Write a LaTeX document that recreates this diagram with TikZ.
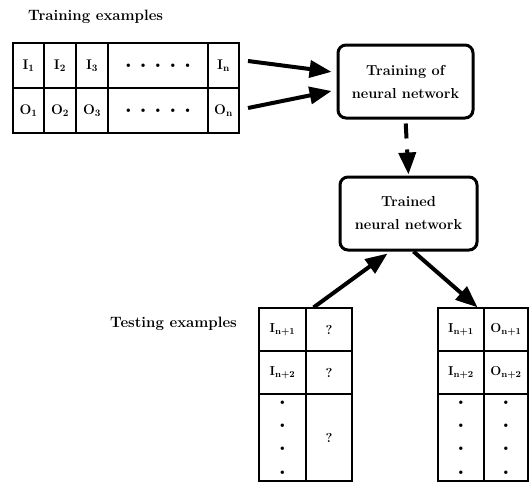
\documentclass[tikz,border=0pt]{standalone}
\usepackage{fontspec}
\usetikzlibrary{arrows.meta}

\newcommand{\lab}[2]{#1\textsubscript{#2}}
\newcommand{\dotmark}{{\fontsize{7}{8}\selectfont$\bullet$}}
\newcommand{\rowdots}{\makebox[64pt]{\dotmark\hfill\dotmark\hfill\dotmark\hfill\dotmark\hfill\dotmark}}
\newcommand{\coldots}{\dotmark\\\dotmark\\\dotmark\\\dotmark}

\tikzset{
  cell/.style={draw, line width=1.2pt, inner sep=0pt, font=\fontsize{14}{16}\selectfont\bfseries\boldmath},
  tcell/.style={cell, font=\fontsize{13}{23.3}\selectfont\bfseries\boldmath, align=center},
  netbox/.style={draw, line width=3pt, rounded corners=8pt, minimum height=73pt, align=center, font=\fontsize{14.5}{23}\selectfont\bfseries},
  flow/.style={-{Triangle[length=22pt,width=17pt]}, line width=4pt},
  heading/.style={anchor=base west, inner sep=0pt, font=\fontsize{15}{18}\selectfont\bfseries}
}

\begin{document}
\begin{tikzpicture}[x=1pt,y=-1pt]
\pgfmathsetmacro{\rowI}{65.5}
\pgfmathsetmacro{\rowO}{110.5}
\pgfmathsetmacro{\ra}{329.5}
\pgfmathsetmacro{\rb}{372.5}
\pgfmathsetmacro{\rc}{437.5}
  \useasboundingbox[fill=white] (0,0) rectangle (532,483);
  % training examples
  \node[heading] (trcap) at (28,20) {Training examples};
  \node[cell, minimum width=31pt, minimum height=45pt] (trI1) at (28.5,\rowI) {\lab{I}{1}};
  \node[cell, minimum width=32pt, minimum height=45pt] (trI2) at (60,\rowI) {\lab{I}{2}};
  \node[cell, minimum width=32pt, minimum height=45pt] (trI3) at (92,\rowI) {\lab{I}{3}};
  \node[cell, minimum width=100pt, minimum height=45pt] (trId) at (158,\rowI) {\rowdots};
  \node[cell, minimum width=31pt, minimum height=45pt] (trIn) at (223.5,\rowI) {\lab{I}{n}};
  \node[cell, minimum width=31pt, minimum height=45pt] (trO1) at (28.5,\rowO) {\lab{O}{1}};
  \node[cell, minimum width=32pt, minimum height=45pt] (trO2) at (60,\rowO) {\lab{O}{2}};
  \node[cell, minimum width=32pt, minimum height=45pt] (trO3) at (92,\rowO) {\lab{O}{3}};
  \node[cell, minimum width=100pt, minimum height=45pt] (trOd) at (158,\rowO) {\rowdots};
  \node[cell, minimum width=31pt, minimum height=45pt] (trOn) at (223.5,\rowO) {\lab{O}{n}};
  % the two networks
  \node[netbox, minimum width=135pt] (train) at (405.5,81.5) {Training of\\neural network};
  \node[netbox, minimum width=137pt] (trained) at (408.5,213.5) {Trained\\neural network};
  % testing examples
  \node[heading] (tscap) at (110,327) {Testing examples};
  \node[tcell, minimum width=47pt, minimum height=43pt] (tsI1) at (282.5,\ra) {\lab{I}{n+1}};
  \node[tcell, minimum width=46pt, minimum height=43pt] (tsQ1) at (329,\ra) {?};
  \node[tcell, minimum width=47pt, minimum height=43pt] (tsI2) at (282.5,\rb) {\lab{I}{n+2}};
  \node[tcell, minimum width=46pt, minimum height=43pt] (tsQ2) at (329,\rb) {?};
  \node[tcell, minimum width=47pt, minimum height=87pt] (tsId) at (282.5,\rc) {\coldots};
  \node[tcell, minimum width=46pt, minimum height=87pt] (tsQd) at (329,\rc) {?};
  % results
  \node[tcell, minimum width=46pt, minimum height=43pt] (rsI1) at (461,\ra) {\lab{I}{n+1}};
  \node[tcell, minimum width=44pt, minimum height=43pt] (rsO1) at (506,\ra) {\lab{O}{n+1}};
  \node[tcell, minimum width=46pt, minimum height=43pt] (rsI2) at (461,\rb) {\lab{I}{n+2}};
  \node[tcell, minimum width=44pt, minimum height=43pt] (rsO2) at (506,\rb) {\lab{O}{n+2}};
  \node[tcell, minimum width=46pt, minimum height=87pt] (rsId) at (461,\rc) {\coldots};
  \node[tcell, minimum width=44pt, minimum height=87pt] (rsOd) at (506,\rc) {\coldots};
  % arrows
  \coordinate (inI) at (248,61);
  \coordinate (inO) at (248,108);
  \draw[flow, shorten >=5pt] (inI) -- ([yshift=9pt]train.west);
  \draw[flow, shorten >=5pt] (inO) -- ([yshift=-8.5pt]train.west);
  \draw[flow, dash pattern=on 15pt off 11pt, shorten <=4pt, shorten >=1pt] (train.south) -- (trained.north);
  \draw[flow] ([xshift=7pt]tsI1.north east) -- ([xshift=-21pt,yshift=-2pt]trained.south);
  \draw[flow] ([xshift=5pt]trained.south) -- ([xshift=-7pt]rsI1.north east);
\end{tikzpicture}
\end{document}
